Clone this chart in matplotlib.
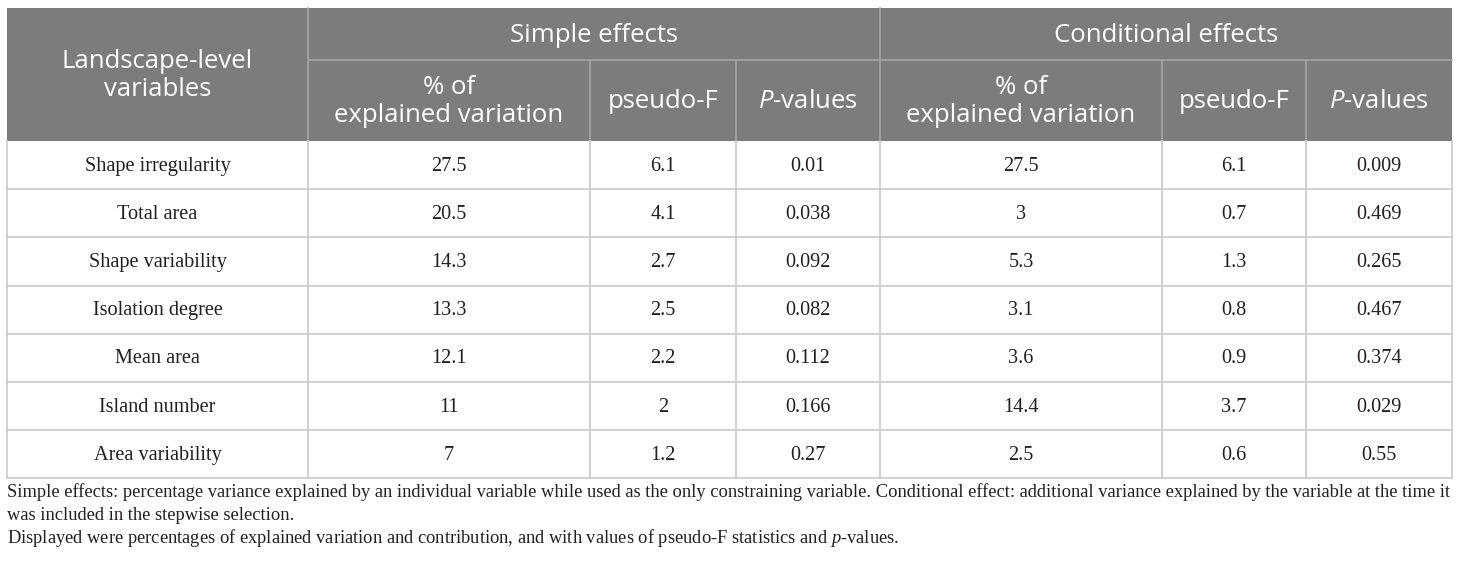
import matplotlib
matplotlib.use("Agg")
import matplotlib.pyplot as plt
from matplotlib.patches import Rectangle

variables = ["Shape irregularity", "Total area", "Shape variability", "Isolation degree",
             "Mean area", "Island number", "Area variability"]
simple_pct = ["27.5", "20.5", "14.3", "13.3", "12.1", "11", "7"]
simple_f = ["6.1", "4.1", "2.7", "2.5", "2.2", "2", "1.2"]
simple_p = ["0.01", "0.038", "0.092", "0.082", "0.112", "0.166", "0.27"]
cond_pct = ["27.5", "3", "5.3", "3.1", "3.6", "14.4", "2.5"]
cond_f = ["6.1", "0.7", "1.3", "0.8", "0.9", "3.7", "0.6"]
cond_p = ["0.009", "0.469", "0.265", "0.467", "0.374", "0.029", "0.55"]

group_labels = ["Simple effects", "Conditional effects"]
# \mathsf is mapped to Open Sans italic below, \it to Liberation Serif italic
sub_labels = ["% of\nexplained variation", "pseudo-F", r"$\mathsf{P}$-values"]
first_header = "Landscape-level\nvariables"
notes = [
    "Simple effects: percentage variance explained by an individual variable while used as the only constraining variable. "
    "Conditional effect: additional variance explained by the variable at the time it",
    "was included in the stepwise selection.",
    r"Displayed were percentages of explained variation and contribution, and with values of pseudo-F statistics and $\it{p}$-values.",
]

plt.rcParams["mathtext.fontset"] = "custom"
plt.rcParams["mathtext.it"] = "Liberation Serif:italic"
plt.rcParams["mathtext.sf"] = "Open Sans:italic"

W, H = 1460, 565
col_x = [7, 308, 590, 736, 880, 1162, 1306, 1452]
top, h1, h2 = 8, 60, 141
row_h = 48.2
header_col = "#7b7c7b"
grid_col = "#c9c9c9"
sans = ["Open Sans", "DejaVu Sans"]
serif = ["Liberation Serif", "DejaVu Serif"]

fig = plt.figure(figsize=(W / 100, H / 100), dpi=100)
ax = fig.add_axes([0, 0, 1, 1])
ax.set_xlim(0, W)
ax.set_ylim(H, 0)
ax.axis("off")

# header background
ax.add_patch(Rectangle((col_x[0], top), col_x[-1] - col_x[0], h2 - top,
                       facecolor=header_col, edgecolor="none"))
# header lines
ax.plot([col_x[1], col_x[-1]], [h1, h1], color="#a5a6a5", lw=1.2)
for x in [col_x[1], col_x[4]]:
    ax.plot([x, x], [top, h2], color="#a5a6a5", lw=1.2)
for x in [col_x[2], col_x[3], col_x[5], col_x[6]]:
    ax.plot([x, x], [h1, h2], color="#a5a6a5", lw=1.2)

ax.text((col_x[0] + col_x[1]) / 2, (top + h2) / 2 + 1, first_header, ha="center", va="center",
        color="white", fontsize=18.5, family=sans, linespacing=1.12)
for i, g in enumerate(group_labels):
    ax.text((col_x[1 + 3 * i] + col_x[4 + 3 * i]) / 2, (top + h1) / 2 + 1, g, ha="center",
            va="center", color="white", fontsize=18.5, family=sans)
    for j, s in enumerate(sub_labels):
        c = 1 + 3 * i + j
        ax.text((col_x[c] + col_x[c + 1]) / 2, (h1 + h2) / 2 + 1, s, ha="center", va="center",
                color="white", fontsize=18.5, family=sans, linespacing=1.12)

# body
columns = [variables, simple_pct, simple_f, simple_p, cond_pct, cond_f, cond_p]
n = len(variables)
bottom = h2 + n * row_h
for r in range(n):
    y0 = h2 + r * row_h
    ax.plot([col_x[0], col_x[-1]], [y0 + row_h, y0 + row_h], color=grid_col, lw=1.2)
    for c, col in enumerate(columns):
        ax.text((col_x[c] + col_x[c + 1]) / 2, y0 + row_h / 2 + 1, col[r], ha="center",
                va="center", fontsize=14.6, family=serif, color="#231f20")
for x in col_x:
    ax.plot([x, x], [h2, bottom], color=grid_col, lw=1.2)

# footnotes
for k, line in enumerate(notes):
    ax.text(col_x[0], bottom + 14 + k * 23, line, ha="left", va="center",
            fontsize=13.3, family=serif, color="#231f20")

fig.savefig("out.png", dpi=100, facecolor="white")
